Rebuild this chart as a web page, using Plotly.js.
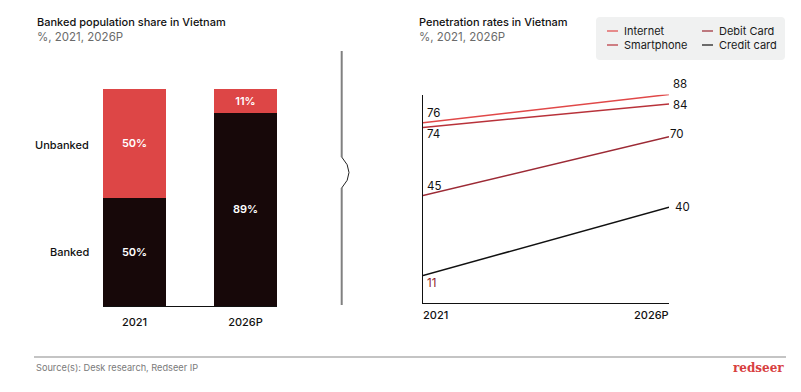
<!DOCTYPE html>
<html>
<head>
<meta charset="utf-8">
<script src="https://cdn.plot.ly/plotly-3.0.1.min.js"></script>
<style>html,body{margin:0;padding:0;background:#fff;}#chart{width:801px;height:392px;}</style>
</head>
<body>
<div id="chart"></div>
<script>
// ---- Data ----
const barYears = ['2021', '2026P'];
const bankedShare = [50, 89];
const unbankedShare = [50, 11];
const barSeriesNames = ['Banked', 'Unbanked'];

const lineYears = ['2021', '2026P'];
const lineSeriesNames = ['Internet', 'Smartphone', 'Debit Card', 'Credit card'];
const internetRate = [76, 88];
const smartphoneRate = [74, 84];
const debitRate = [45, 70];
const creditRate = [11, 40];

// ---- Helpers ----
const W = 801, H = 392;
const px = x => x / W;
const py = y => 1 - y / H;
const FONT = 'Inter, Lato, sans-serif';

const RED = '#dd4646';
const DARK = '#170809';
const lineColors = ['#e04848', '#b8323a', '#9c2a35', '#111111'];
const lineValues = [internetRate, smartphoneRate, debitRate, creditRate];
const lineIdx = lineYears.map((_, i) => i);

const traces = [];
traces.push({
  type: 'bar', x: barYears, y: bankedShare, name: barSeriesNames[0],
  marker: {color: DARK, line: {width: 0}},
  text: bankedShare.map(v => v + '%'), textposition: 'inside', insidetextanchor: 'middle',
  textangle: 0, constraintext: 'none',
  textfont: {color: '#ffffff', size: 11, family: FONT, weight: 600},
  xaxis: 'x', yaxis: 'y', width: 0.568, hoverinfo: 'skip'
});
traces.push({
  type: 'bar', x: barYears, y: unbankedShare, name: barSeriesNames[1],
  marker: {color: RED, line: {width: 0}},
  text: unbankedShare.map(v => v + '%'), textposition: 'inside', insidetextanchor: 'middle',
  textangle: 0, constraintext: 'none',
  textfont: {color: '#ffffff', size: 11, family: FONT, weight: 600},
  xaxis: 'x', yaxis: 'y', width: 0.568, hoverinfo: 'skip'
});
lineValues.forEach((vals, i) => {
  traces.push({
    type: 'scatter', mode: 'lines', x: lineIdx, y: vals, name: lineSeriesNames[i],
    line: {color: lineColors[i], width: 1.5}, xaxis: 'x2', yaxis: 'y2', hoverinfo: 'skip'
  });
});

const annotations = [];
const txt = (text, x, y, opts) => Object.assign({
  text, x, y, xref: 'paper', yref: 'paper', showarrow: false,
  xanchor: 'left', yanchor: 'middle', font: {family: FONT, size: 11, color: '#111'}
}, opts || {});

// Titles
annotations.push(txt('Banked population share in Vietnam', px(35), py(22), {font: {family: FONT, size: 11, color: '#111', weight: 500}}));
annotations.push(txt('%, 2021, 2026P', px(35), py(37), {font: {family: FONT, size: 11.5, color: '#6b6b6b'}}));
annotations.push(txt('Penetration rates in Vietnam', px(417), py(22), {font: {family: FONT, size: 11, color: '#111', weight: 500}}));
annotations.push(txt('%, 2021, 2026P', px(417), py(37), {font: {family: FONT, size: 11.5, color: '#6b6b6b'}}));

// Bar series labels on the left (centred on 2021 segments)
annotations.push({text: barSeriesNames[1], x: px(91), y: bankedShare[0] + unbankedShare[0] / 2, xref: 'paper', yref: 'y',
  showarrow: false, xanchor: 'right', yanchor: 'middle', yshift: -2, font: {family: FONT, size: 11, color: '#111', weight: 500}});
annotations.push({text: barSeriesNames[0], x: px(91), y: bankedShare[0] / 2, xref: 'paper', yref: 'y',
  showarrow: false, xanchor: 'right', yanchor: 'middle', font: {family: FONT, size: 11, color: '#111', weight: 500}});

// Line chart x labels
annotations.push({text: lineYears[0], x: lineIdx[0], y: py(315), xref: 'x2', yref: 'paper', showarrow: false,
  xanchor: 'left', yanchor: 'middle', xshift: -2, font: {family: FONT, size: 11, color: '#111', weight: 500}});
annotations.push({text: lineYears[1], x: lineIdx[1], y: py(315), xref: 'x2', yref: 'paper', showarrow: false,
  xanchor: 'right', yanchor: 'middle', xshift: 2, font: {family: FONT, size: 11, color: '#111', weight: 500}});

// Line value labels
const startShift = [10, -7, 10, -8];
const endShift = [[0, 11], [0, -1], [-3, 3], [2, 0]];
const startColors = ['#111', '#111', '#111', '#8c1c2c'];
lineValues.forEach((vals, i) => {
  annotations.push({text: String(vals[0]), x: lineIdx[0], y: vals[0], xref: 'x2', yref: 'y2', showarrow: false,
    xanchor: 'left', yanchor: 'middle', xshift: 2, yshift: startShift[i], font: {family: FONT, size: 11.5, color: startColors[i]}});
  annotations.push({text: String(vals[1]), x: lineIdx[1], y: vals[1], xref: 'x2', yref: 'y2', showarrow: false,
    xanchor: 'left', yanchor: 'middle', xshift: endShift[i][0] + 2, yshift: endShift[i][1], font: {family: FONT, size: 11.5, color: '#111'}});
});

// Legend (manual, 2x2)
const legPos = [[607, 31], [607, 45], [702, 31], [702, 45]];
const shapes = [];
lineSeriesNames.forEach((n, i) => {
  const [lx, ly] = legPos[i];
  shapes.push({type: 'line', xref: 'paper', yref: 'paper', x0: px(lx), x1: px(lx + 11), y0: py(ly), y1: py(ly),
    line: {color: lineColors[i], width: 1.2}});
  annotations.push(txt(n, px(lx + 15), py(ly), {font: {family: FONT, size: 11, color: '#1a1a1a'}}));
});

// Footer
annotations.push(txt('Source(s): Desk research, Redseer IP', px(34), py(367), {font: {family: FONT, size: 9.2, color: '#7a7a7a'}}));
annotations.push(txt('redseer', px(786), py(368), {xanchor: 'right', font: {family: 'DejaVu Serif, Liberation Serif, serif', size: 12, color: '#d8403f', weight: 700}}));

// Legend box
const rr = (x0, y0, x1, y1, r) => {
  const X = px, Y = py;
  return `M ${X(x0 + r)},${Y(y0)} L ${X(x1 - r)},${Y(y0)} Q ${X(x1)},${Y(y0)} ${X(x1)},${Y(y0 + r)} ` +
    `L ${X(x1)},${Y(y1 - r)} Q ${X(x1)},${Y(y1)} ${X(x1 - r)},${Y(y1)} L ${X(x0 + r)},${Y(y1)} ` +
    `Q ${X(x0)},${Y(y1)} ${X(x0)},${Y(y1 - r)} L ${X(x0)},${Y(y0 + r)} Q ${X(x0)},${Y(y0)} ${X(x0 + r)},${Y(y0)} Z`;
};
shapes.unshift({type: 'path', xref: 'paper', yref: 'paper', path: rr(596, 17, 785, 60, 4),
  fillcolor: '#f0f1f1', line: {width: 0}, layer: 'below'});

// Divider with break
shapes.push({type: 'line', xref: 'paper', yref: 'paper', x0: px(341.7), x1: px(341.7), y0: py(51), y1: py(157),
  line: {color: '#808080', width: 2}});
shapes.push({type: 'line', xref: 'paper', yref: 'paper', x0: px(341.7), x1: px(341.7), y0: py(188), y1: py(305),
  line: {color: '#808080', width: 2}});
shapes.push({type: 'path', xref: 'paper', yref: 'paper',
  path: `M ${px(341.7)},${py(157)} Q ${px(356.3)},${py(172.5)} ${px(341.7)},${py(188)}`,
  line: {color: '#222', width: 1}});
// Footer rule
shapes.push({type: 'line', xref: 'paper', yref: 'paper', x0: px(34), x1: px(786), y0: py(357), y1: py(357),
  line: {color: '#8a8a8a', width: 1.2}});

const layout = {
  width: W, height: H, margin: {l: 0, r: 0, t: 0, b: 0},
  paper_bgcolor: '#ffffff', plot_bgcolor: 'rgba(0,0,0,0)',
  showlegend: false, barmode: 'stack', bargap: 0,
  font: {family: FONT, color: '#111'},
  xaxis: {domain: [px(103), px(277)], type: 'category', range: [-0.284, 1.284],
    showgrid: false, zeroline: false, showline: true, linecolor: '#111', linewidth: 1,
    ticks: '', tickfont: {family: FONT, size: 11, color: '#111', weight: 500}, ticklabelstandoff: 6, fixedrange: true},
  yaxis: {domain: [py(306), py(89)], range: [0, 100], visible: false, fixedrange: true},
  xaxis2: {domain: [px(423), px(669)], type: 'linear', range: [0, 1], anchor: 'y2',
    showgrid: false, zeroline: false, showline: true, linecolor: '#111', linewidth: 1.2,
    showticklabels: false, ticks: '', fixedrange: true},
  yaxis2: {domain: [py(303), py(94.5)], range: [-0.72, 88], anchor: 'x2',
    showgrid: false, zeroline: false, showline: true, linecolor: '#111', linewidth: 1.2,
    showticklabels: false, ticks: '', fixedrange: true},
  annotations, shapes
};

Plotly.newPlot('chart', traces, layout, {staticPlot: true, displayModeBar: false});
</script>
</body>
</html>
